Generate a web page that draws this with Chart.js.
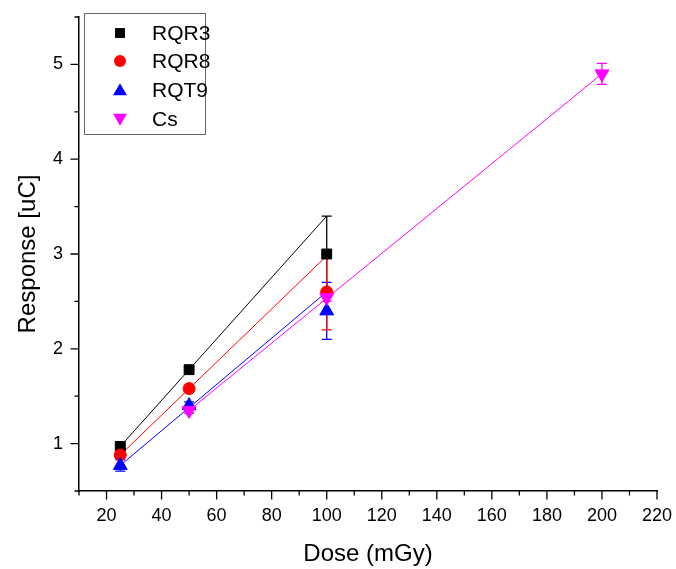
<!DOCTYPE html>
<html>
<head>
<meta charset="utf-8">
<script src="https://cdn.jsdelivr.net/npm/chart.js@4/dist/chart.umd.min.js"></script>
<style>
  body { margin: 0; background: #fff; }
  #wrap { width: 676px; height: 569px; }
</style>
</head>
<body>
<div id="wrap"><canvas id="myChart" width="676" height="569"></canvas></div>
<script>
// dati
const dose = [25, 50, 100];
const rqr3 = [0.97, 1.78, 3.0];
const rqr3Err = [0.02, 0.02, 0.4];
const rqr8 = [0.88, 1.58, 2.6];
const rqr8Err = [0.02, 0.02, 0.4];
const rqt9 = [0.77, 1.40, 2.4];
const rqt9Err = [0.06, 0.04, 0.3];
const csDose = [50, 100, 200];
const cs = [1.35, 2.54, 4.9];
const csErr = [0.03, 0.04, 0.11];

// rette di fit
const fitDose = [25, 100];
const fitRqr3 = [0.97, 3.40];
const fitRqr8 = [0.88, 2.98];
const fitRqt9 = [0.77, 2.60];
const fitCsDose = [50, 200];
const fitCs = [1.35, 4.90];

const FONT = "Arial, 'Liberation Sans', sans-serif";

function pts(xs, ys) {
    return xs.map((x, i) => ({x: x, y: ys[i]}));
}

function pointSet(label, xs, ys, errs, color, style, radius, rotation, order) {
    return {
        label: label,
        data: pts(xs, ys),
        errors: errs,
        showLine: false,
        pointStyle: style,
        pointRadius: radius,
        pointRotation: rotation,
        pointBackgroundColor: color,
        pointBorderColor: color,
        pointBorderWidth: 1,
        borderColor: color,
        backgroundColor: color,
        order: order
    };
}

function fitSet(xs, ys, color) {
    return {
        label: 'fit',
        data: pts(xs, ys),
        showLine: true,
        pointRadius: 0,
        borderColor: color,
        borderWidth: 1,
        fill: false,
        order: 10
    };
}

var datasets = [
    pointSet('RQR3', dose, rqr3, rqr3Err, '#000000', 'rect', 7, 0, 3),
    pointSet('RQR8', dose, rqr8, rqr8Err, '#ff0000', 'circle', 6, 0, 2),
    pointSet('RQT9', dose, rqt9, rqt9Err, '#0000ff', 'triangle', 8, 0, 1),
    pointSet('Cs', csDose, cs, csErr, '#ff00ff', 'triangle', 8, 180, 0),
    fitSet(fitDose, fitRqr3, '#000000'),
    fitSet(fitDose, fitRqr8, '#ff0000'),
    fitSet(fitDose, fitRqt9, '#0000ff'),
    fitSet(fitCsDose, fitCs, '#ff00ff')
];

// barre d'errore
const errorBars = {
    id: 'errorBars',
    beforeDatasetsDraw(chart) {
        const ctx = chart.ctx;
        const yScale = chart.scales.y;
        [0, 2, 1, 3].forEach(i => {
            const ds = chart.data.datasets[i];
            const meta = chart.getDatasetMeta(i);
            ctx.save();
            ctx.strokeStyle = ds.borderColor;
            ctx.lineWidth = 1.3;
            meta.data.forEach((p, j) => {
                const v = ds.data[j].y;
                const e = ds.errors[j];
                const top = yScale.getPixelForValue(v + e);
                const bot = yScale.getPixelForValue(v - e);
                ctx.beginPath();
                ctx.moveTo(p.x, top); ctx.lineTo(p.x, bot);
                ctx.moveTo(p.x - 5, top); ctx.lineTo(p.x + 5, top);
                ctx.moveTo(p.x - 5, bot); ctx.lineTo(p.x + 5, bot);
                ctx.stroke();
            });
            ctx.restore();
        });
    }
};

// tacche esterne, lunghe e corte
const tickMarks = {
    id: 'tickMarks',
    afterDraw(chart) {
        const ctx = chart.ctx;
        const xs = chart.scales.x, ys = chart.scales.y;
        ctx.save();
        ctx.strokeStyle = '#000';
        ctx.lineWidth = 1.3;
        ctx.beginPath();
        xs.ticks.forEach(t => {
            const px = xs.getPixelForValue(t.value);
            const len = (t.value % 20 === 0) ? 8.5 : 4.5;
            ctx.moveTo(px, xs.top); ctx.lineTo(px, xs.top + len);
        });
        ys.ticks.forEach(t => {
            const py = ys.getPixelForValue(t.value);
            const len = Number.isInteger(t.value) ? 8.5 : 4.5;
            ctx.moveTo(ys.right, py); ctx.lineTo(ys.right - len, py);
        });
        ctx.stroke();
        ctx.restore();
    }
};

function drawMarker(ctx, style, x, y, r, color) {
    ctx.fillStyle = color;
    ctx.beginPath();
    if (style === 'rect') {
        const s = r * Math.SQRT1_2;
        ctx.rect(x - s, y - s, 2 * s, 2 * s);
    } else if (style === 'circle') {
        ctx.arc(x, y, r, 0, Math.PI * 2);
    } else if (style === 'up') {
        ctx.moveTo(x, y - r * 0.85);
        ctx.lineTo(x + r * 0.87, y + r * 0.65);
        ctx.lineTo(x - r * 0.87, y + r * 0.65);
    } else {
        ctx.moveTo(x, y + r * 0.85);
        ctx.lineTo(x + r * 0.87, y - r * 0.65);
        ctx.lineTo(x - r * 0.87, y - r * 0.65);
    }
    ctx.closePath();
    ctx.fill();
}

// legenda dentro l'area del grafico
const boxLegend = {
    id: 'boxLegend',
    afterDraw(chart) {
        const ctx = chart.ctx;
        const styles = ['rect', 'circle', 'up', 'down'];
        const rows = [33, 61, 90, 119];
        ctx.save();
        ctx.fillStyle = '#fff';
        ctx.fillRect(84.5, 13.5, 121, 121);
        ctx.strokeStyle = '#666';
        ctx.lineWidth = 1;
        ctx.strokeRect(84.5, 13.5, 121, 121);
        for (let i = 0; i < 4; i++) {
            const ds = chart.data.datasets[i];
            drawMarker(ctx, styles[i], 120, rows[i], i === 0 ? 7 : (i === 1 ? 6 : 8), ds.backgroundColor);
            ctx.fillStyle = '#000';
            ctx.font = '21px ' + FONT;
            ctx.textBaseline = 'middle';
            ctx.textAlign = 'left';
            ctx.fillText(ds.label, 152, rows[i] + 1);
        }
        ctx.restore();
    }
};

var ctx = document.getElementById('myChart').getContext('2d');
var myChart = new Chart(ctx, {
    type: 'scatter',
    data: { datasets: datasets },
    plugins: [errorBars, tickMarks, boxLegend],
    options: {
        responsive: false,
        animation: false,
        devicePixelRatio: 1,
        layout: { padding: { top: 17, right: 19, left: 0, bottom: 0 } },
        plugins: {
            legend: { display: false },
            tooltip: { enabled: false }
        },
        scales: {
            x: {
                type: 'linear',
                position: 'bottom',
                min: 10,
                max: 220,
                grid: { display: false, drawTicks: false },
                border: { display: true, color: '#000', width: 1.5 },
                ticks: {
                    stepSize: 10,
                    autoSkip: false,
                    maxRotation: 0,
                    padding: 14,
                    color: '#000',
                    font: { family: FONT, size: 18 },
                    callback: v => (v % 20 === 0 ? v : '')
                },
                title: {
                    display: true,
                    text: 'Dose (mGy)',
                    color: '#000',
                    font: { family: FONT, size: 24 },
                    padding: { top: 0, bottom: 0 }
                },
                afterFit: s => { s.height = 78; s.paddingLeft = 0; s.paddingRight = 0; }
            },
            y: {
                type: 'linear',
                min: 0.5,
                max: 5.5,
                grid: { display: false, drawTicks: false },
                border: { display: true, color: '#000', width: 1.5 },
                ticks: {
                    stepSize: 0.5,
                    autoSkip: false,
                    padding: 16,
                    color: '#000',
                    font: { family: FONT, size: 18 },
                    callback: v => (Number.isInteger(v) ? v : '')
                },
                title: {
                    display: true,
                    text: 'Response [uC]',
                    color: '#000',
                    font: { family: FONT, size: 24 },
                    padding: { top: 14, bottom: 0 }
                },
                afterFit: s => { s.width = 79; s.paddingTop = 0; s.paddingBottom = 0; }
            }
        }
    }
});
</script>
</body>
</html>
